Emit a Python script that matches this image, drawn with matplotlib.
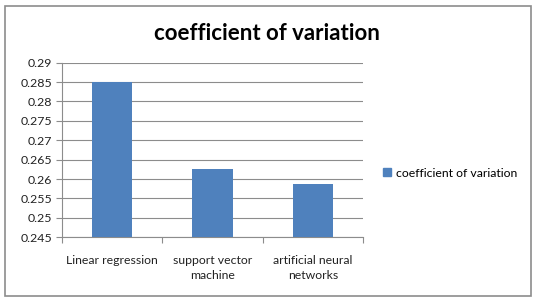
import matplotlib
matplotlib.use('Agg')
import matplotlib.pyplot as plt
from matplotlib.patches import Rectangle
from matplotlib.lines import Line2D

categories = ['Linear regression', 'support vector\nmachine', 'artificial neural\nnetworks']
values = [0.285, 0.2627, 0.2587]
yticks = [0.245, 0.25, 0.255, 0.26, 0.265, 0.27, 0.275, 0.28, 0.285, 0.29]
yticklabels = ['0.245', '0.25', '0.255', '0.26', '0.265', '0.27', '0.275', '0.28', '0.285', '0.29']
series_name = 'coefficient of variation'

plt.rcParams['font.family'] = ['Lato', 'DejaVu Sans']

W, H = 541, 305
fig = plt.figure(figsize=(W / 100, H / 100), dpi=100)

# outer chart frame
fig.patches.append(Rectangle((5 / W, 1 - 296 / H), 526 / W, 290 / H,
                             transform=fig.transFigure, fill=False,
                             edgecolor='#8c8c8c', linewidth=1.2))

ax = fig.add_axes([62 / W, 1 - 237.3 / H, 301 / W, 174.6 / H])
x = range(len(categories))
ax.bar(x, values, width=0.4, color='#4f81bd', zorder=3)
ax.set_xlim(-0.5, 2.5)
ax.set_ylim(0.245, 0.29)
ax.set_yticks(yticks)
ax.set_yticklabels(yticklabels, fontsize=8.9, color='#222222')
ax.yaxis.grid(True, color='#8c8c8c', linewidth=0.8, zorder=0)

ax.set_xticks([-0.5, 0.5, 1.5, 2.5])
ax.set_xticklabels([])
ax.set_xticks(list(x), minor=True)
ax.set_xticklabels(categories, minor=True, fontsize=8.8, color='#222222',
                   linespacing=1.4, va='top')
ax.tick_params(axis='x', which='minor', length=0, pad=13)
ax.tick_params(axis='x', which='major', length=4, color='#8c8c8c', direction='out')
ax.tick_params(axis='y', length=4, color='#8c8c8c', direction='out', pad=3)

for s in ['top', 'right']:
    ax.spines[s].set_visible(False)
for s in ['left', 'bottom']:
    ax.spines[s].set_color('#8c8c8c')
    ax.spines[s].set_linewidth(0.8)

fig.text(267 / W, 1 - 33 / H, 'coefficient of variation', ha='center', va='center',
         fontsize=16, fontweight='bold', color='black')

handle = Line2D([], [], marker='s', linestyle='none', markersize=6,
                markerfacecolor='#4f81bd', markeredgecolor='#4f81bd')
fig.legend([handle], [series_name], loc='center left',
           bbox_to_anchor=(381 / W, 1 - 173 / H), frameon=False,
           fontsize=8.8, handletextpad=0.2, borderaxespad=0, borderpad=0,
           handlelength=1.0)

fig.savefig('out.png', dpi=100)
